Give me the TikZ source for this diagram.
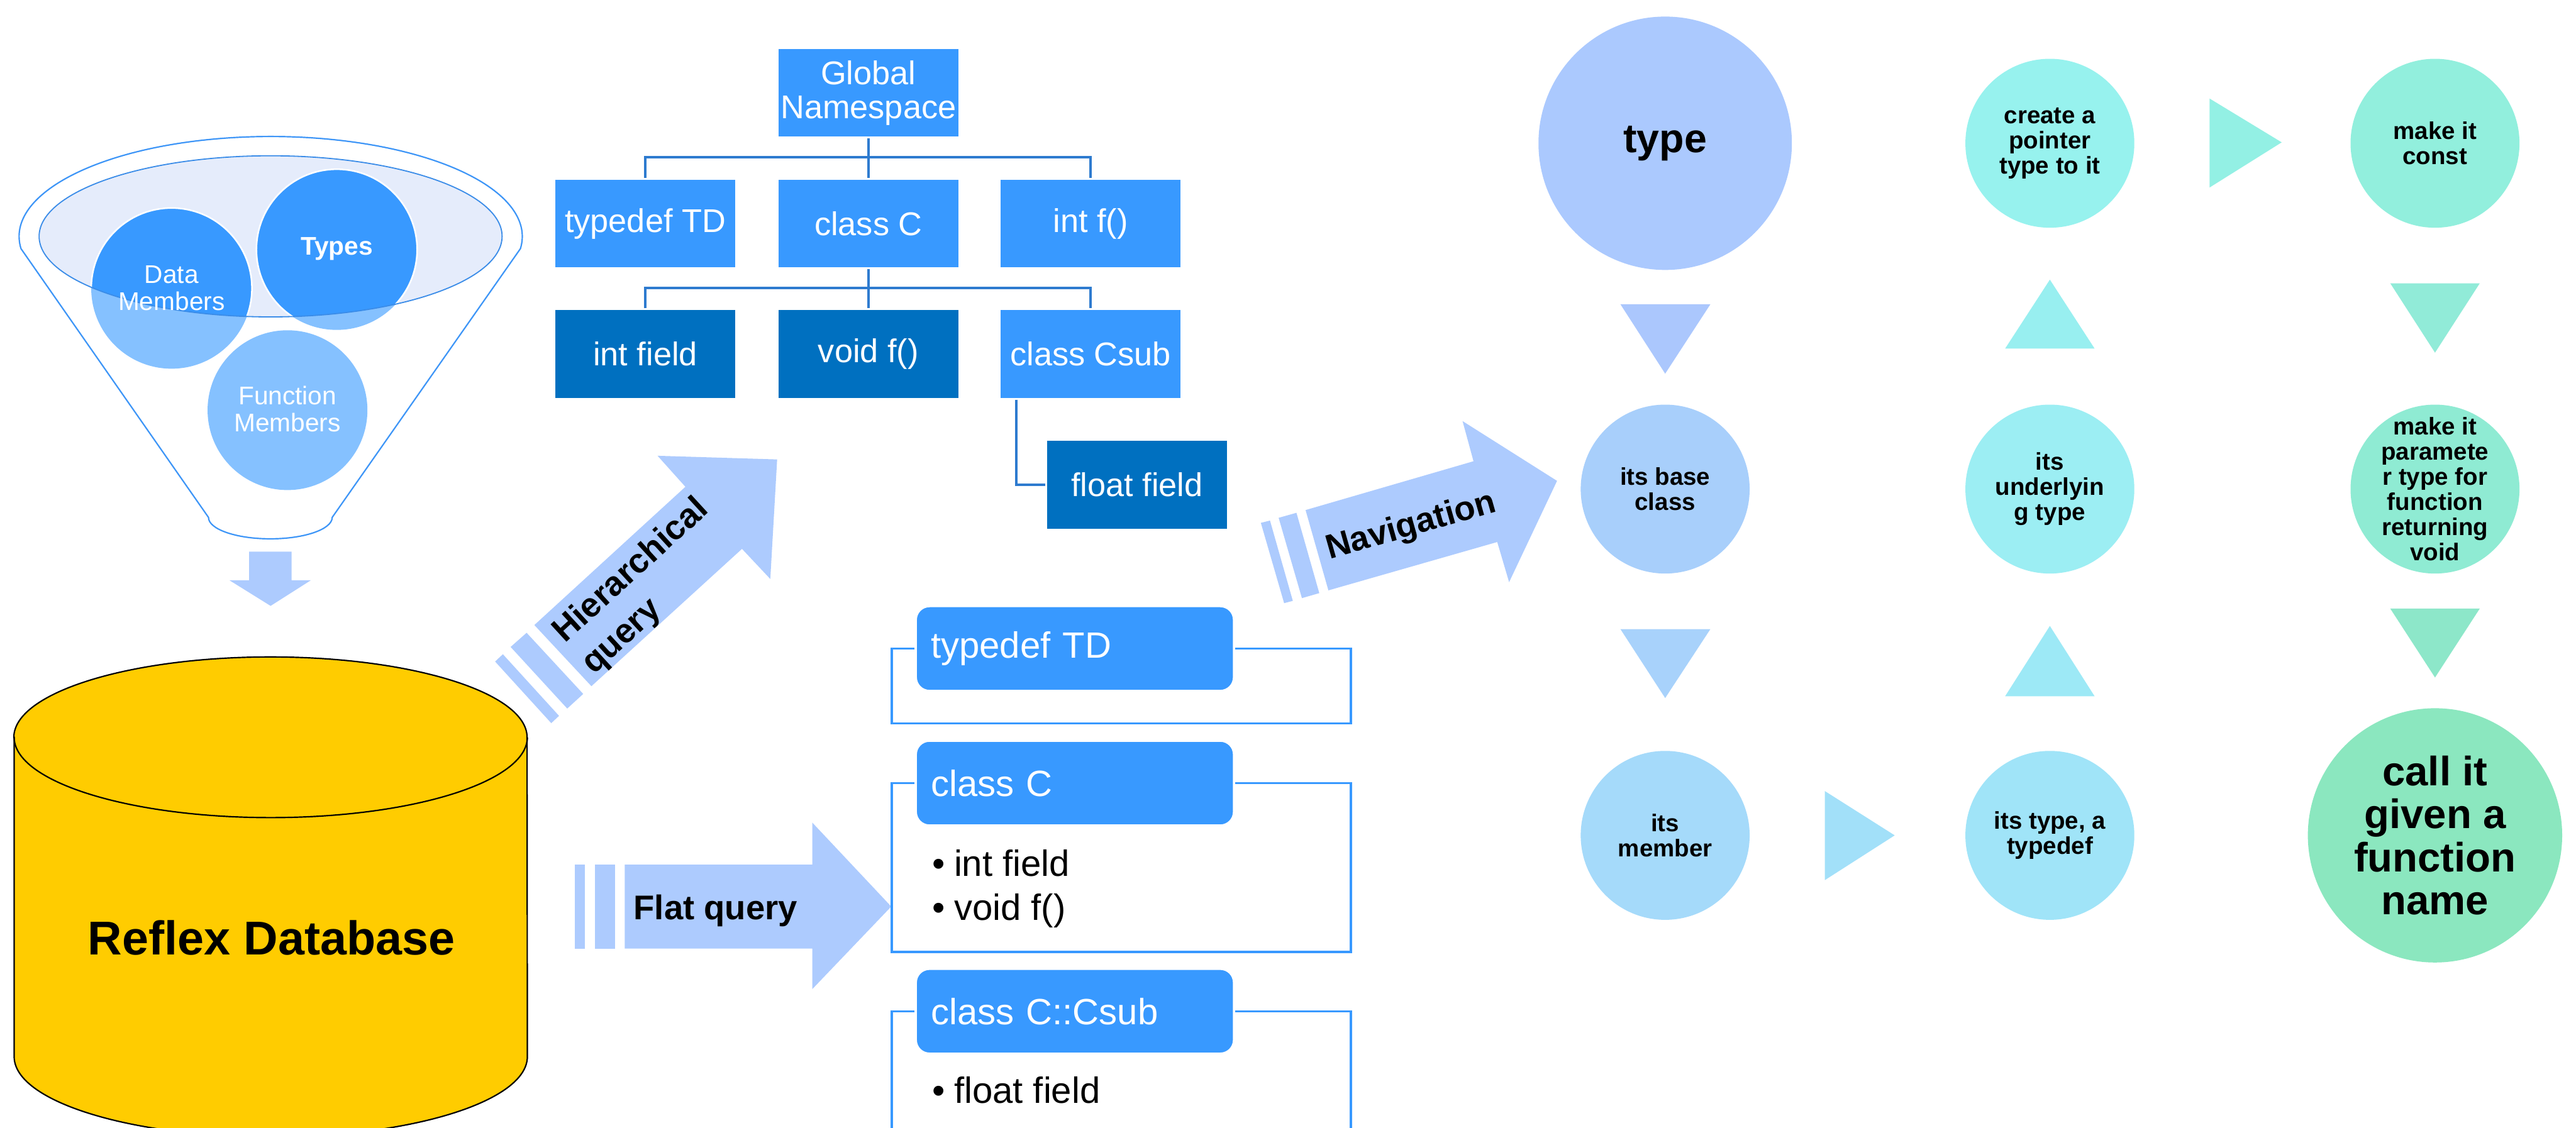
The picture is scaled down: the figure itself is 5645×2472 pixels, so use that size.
\documentclass[tikz,border=0pt]{standalone}
\usepackage{fontspec}
\setmainfont{Liberation Sans}
\newcommand\fsz[2]{\fontsize{#1pt}{#2pt}\selectfont}
\definecolor{arrowcol}{HTML}{ADCBFE}
\definecolor{funline}{HTML}{3D95F7}
\definecolor{ellline}{HTML}{3A8CE8}
\definecolor{ellfill}{HTML}{E5ECFB}
\definecolor{circlight}{HTML}{85C1FF}
\definecolor{circdark}{HTML}{3899FF}
\definecolor{boxlight}{HTML}{3899FF}
\definecolor{boxdark}{HTML}{0070C0}
\definecolor{conncol}{HTML}{2E7BCF}
\definecolor{cylfill}{HTML}{FFCC00}
\definecolor{cType}{HTML}{ABC9FE}
\definecolor{cT1}{HTML}{ABC7FD}
\definecolor{cBase}{HTML}{A8CFFB}
\definecolor{cT2}{HTML}{A8D2FB}
\definecolor{cMem}{HTML}{A5DAFA}
\definecolor{cT3}{HTML}{A2E0F9}
\definecolor{cTd}{HTML}{A0E4F8}
\definecolor{cT4}{HTML}{9DE9F6}
\definecolor{cUnd}{HTML}{9CEEF3}
\definecolor{cT5}{HTML}{98EFF0}
\definecolor{cPtr}{HTML}{97F2EE}
\definecolor{cT6}{HTML}{93F0E4}
\definecolor{cConst}{HTML}{92EFDD}
\definecolor{cT7}{HTML}{91EBD8}
\definecolor{cPar}{HTML}{8FEBD3}
\definecolor{cT8}{HTML}{8DE7C9}
\definecolor{cCall}{HTML}{8BE7BF}
\begin{document}
\begin{tikzpicture}[x=0.01cm, y=-0.01cm,
  treebox/.style={rectangle, fill=boxlight, draw=white, line width=0.04cm,
    minimum width=3.98cm, minimum height=1.96cm, inner sep=0pt, text=white,
    font=\fsz{20.5}{21.3}, align=center},
  treedark/.style={treebox, fill=boxdark},
  conn/.style={draw=conncol, line width=0.06cm},
  ttl/.style={rectangle, rounded corners=0.3cm, fill=boxlight, draw=white,
    line width=0.05cm, minimum height=1.86cm, text width=6.31cm,
    inner xsep=0.33cm, inner ysep=0pt, align=left, text=white,
    font=\fsz{22.76}{27.6}},
  bracket/.style={draw=boxlight, line width=0.045cm},
  item/.style={anchor=base west, inner sep=0pt, font=\fsz{22.76}{27.6}},
  band/.style={fill=arrowcol},
  lbl/.style={font=\bfseries\fsz{21.34}{26.46}, inner sep=0pt, anchor=base west},
  flowc/.style={circle, minimum size=3.7cm, inner sep=0pt},
  flowt/.style={align=center, inner sep=0pt, font=\bfseries\fsz{15.08}{15.65}},
  ftxt/.style={align=center, inner sep=0pt, text=white, font=\fsz{15.93}{16.79}}
]
\useasboundingbox (0,0) rectangle (5645,2472);
\clip (0,0) rectangle (5645,2472);
\fill[white] (0,0) rectangle (5645,2472);

% ---------------- funnel ----------------
\draw[funline, line width=0.03cm] (46,545)
  arc[start angle=187, end angle=-7, x radius=5.51cm, y radius=2.19cm]
  -- (728,1134)
  arc[start angle=0, end angle=-180, x radius=1.355cm, y radius=0.47cm]
  -- cycle;
\fill[ellfill] (593,518) ellipse [x radius=5.07cm, y radius=1.765cm];
\fill[circlight] (376,632) circle [radius=1.76cm];
\fill[circlight] (738,547) circle [radius=1.76cm];
\fill[circlight] (630,899) circle [radius=1.75cm];
\begin{scope}
  \clip (593,518) ellipse [x radius=5.07cm, y radius=1.765cm];
  \fill[circdark] (376,632) circle [radius=1.76cm];
  \fill[circdark] (738,547) circle [radius=1.76cm];
  \draw[white, line width=0.035cm] (376,632) circle [radius=1.76cm];
  \draw[white, line width=0.035cm] (738,547) circle [radius=1.76cm];
\end{scope}
\draw[ellline, line width=0.025cm] (593,518) ellipse [x radius=5.07cm, y radius=1.765cm];
\node[ftxt] (dm) at (376,631) {Data\\Members};
\node[ftxt, font=\bfseries\fsz{15.93}{16.79}] (ty) at (738,545) {Types};
\node[ftxt] (fm) at (630,897) {Function\\Members};

% down arrow
\fill[band] (546,1209) -- (639,1209) -- (639,1272) -- (681,1272) -- (593,1328)
  -- (503,1272) -- (546,1272) -- cycle;

% ---------------- database cylinder ----------------
\filldraw[fill=cylfill, draw=black, line width=0.03cm] (31,1616) -- (31,2316)
  arc[start angle=180, end angle=360, x radius=5.62cm, y radius=1.76cm]
  -- (1155,1616)
  arc[start angle=0, end angle=180, x radius=5.62cm, y radius=1.76cm] -- cycle;
\draw[black, line width=0.03cm] (31,1616)
  arc[start angle=180, end angle=360, x radius=5.62cm, y radius=1.76cm];
\node[font=\bfseries\fsz{29.6}{32}, inner sep=0pt] (db) at (595,2056) {Reflex Database};

% ---------------- hierarchical query arrow ----------------
\fill[band] (1085,1450) -- (1102,1434) -- (1225,1569) -- (1208,1585) -- cycle;
\fill[band] (1119,1418) -- (1154,1387) -- (1278,1521) -- (1243,1553) -- cycle;
\fill[band] (1171,1370) -- (1502,1067) -- (1441,999) -- (1703,1007) -- (1688,1269)
  -- (1626,1203) -- (1296,1504) -- cycle;
\node[font=\bfseries\fsz{21.34}{26.46}, inner sep=0pt, align=left,
  anchor=north west, rotate=42.5] (hq) at (1201,1371) {Hierarchical\\query};

% ---------------- flat query arrow ----------------
\fill[band] (1260,1895) rectangle (1282,2079);
\fill[band] (1304,1895) rectangle (1348,2079);
\fill[band] (1369,1895) -- (1780,1895) -- (1780,1803) -- (1953,1987) -- (1780,2168)
  -- (1780,2079) -- (1369,2079) -- cycle;
\node[lbl] (flat) at (1388,2016) {Flat query};

% ---------------- navigation arrow ----------------
\fill[band] (2763,1146) -- (2783,1141) -- (2833,1317) -- (2814,1322) -- cycle;
\fill[band] (2802,1135) -- (2841,1124) -- (2891,1300) -- (2853,1311) -- cycle;
\fill[band] (2861,1118) -- (3229,1011) -- (3205,923) -- (3412,1054) -- (3307,1276)
  -- (3281,1188) -- (2911,1294) -- cycle;
\node[lbl, rotate=15.9] (nav) at (2913,1226) {Navigation};

% ---------------- tree ----------------
\node[treebox] (gn) at (1903,203.5) {Global\\Namespace};
\node[treebox] (td) at (1414,490) {typedef TD};
\node[treebox] (cc) at (1903,490) {class C};
\node[treebox] (nfn) at (2390,490) {int f()};
\node[treedark] (nif) at (1414,776) {int field};
\node[treedark] (nvf) at (1903,776) {void f()};
\node[treebox] (ncs) at (2390,776) {class Csub};
\node[treedark] (nff) at (2491.5,1062.5) {float field};
\draw[conn] (gn.south) -- (cc.north);
\draw[conn] (td.north) -- ++(0,-45) -| (nfn.north);
\draw[conn] (cc.south) -- (nvf.north);
\draw[conn] (nif.north) -- ++(0,-45) -| (ncs.north);
\draw[conn] ([xshift=0.38cm]ncs.south west) |- (nff.west);

% ---------------- flat list ----------------
\node[ttl] (t1) at (2355.5,1421.5) {typedef TD};
\node[ttl] (t2) at (2355.5,1716.5) {class C};
\node[ttl] (t3) at (2355.5,2216.5) {class C::Csub};
\draw[bracket] (t1.west) -- ++(-50,0) |- ++(1006,164) -- ++(0,-164) -- (t1.east);
\draw[bracket] (t2.west) -- ++(-50,0) |- ++(1006,370) -- ++(0,-370) -- (t2.east);
\draw[bracket] (t3.west) -- ++(-50,0) |- ++(1006,400) -- ++(0,-400) -- (t3.east);
\node[item] (i1) at (2042,1920) {•\hspace{0.2cm}int field};
\node[item] (i2) at (2042,2017) {•\hspace{0.2cm}void f()};
\node[item] (i3) at (2042,2418) {•\hspace{0.2cm}float field};

% ---------------- navigation flow ----------------
\fill[cT1] (3551,667) -- (3748,667) -- (3649,819) -- cycle;
\fill[cT2] (3551,1379) -- (3748,1379) -- (3649,1530) -- cycle;
\fill[cT3] (3999,1734) -- (3999,1929) -- (4152,1831) -- cycle;
\fill[cT4] (4394,1526) -- (4590,1526) -- (4492,1372) -- cycle;
\fill[cT5] (4394,764) -- (4590,764) -- (4492,613) -- cycle;
\fill[cT6] (4842,216) -- (4842,411) -- (5000,312) -- cycle;
\fill[cT7] (5238,621) -- (5434,621) -- (5336,773) -- cycle;
\fill[cT8] (5238,1334) -- (5434,1334) -- (5336,1485) -- cycle;

\node[flowc, minimum size=5.55cm, fill=cType] (ntype) at (3649,314) {};
\node[flowc, fill=cBase] (nbase) at (3649,1072) {};
\node[flowc, fill=cMem] (nmem) at (3649,1831) {};
\node[flowc, fill=cTd] (ntd) at (4492,1831) {};
\node[flowc, fill=cUnd] (nund) at (4492,1072) {};
\node[flowc, fill=cPtr] (nptr) at (4492,314) {};
\node[flowc, fill=cConst] (ncst) at (5336,314) {};
\node[flowc, fill=cPar] (npar) at (5336,1072) {};
\node[flowc, minimum size=5.57cm, fill=cCall] (ncall) at (5336,1831) {};

\node[flowt, font=\bfseries\fsz{25.3}{26.8}] (ltype) at (ntype) {type};
\node[flowt] (lbase) at (nbase) {its base\\class};
\node[flowt] (lmem) at (nmem) {its\\member};
\node[flowt] (ltd) at (ntd) {its type, a\\typedef};
\node[flowt] (lund) at (nund) {its\\underlyin\\g type};
\node[flowt] (lptr) at (nptr) {create a\\pointer\\type to it};
\node[flowt] (lcst) at (ncst) {make it\\const};
\node[flowt] (lpar) at (npar) {make it\\paramete\\r type for\\function\\returning\\void};
\node[flowt, font=\bfseries\fsz{25.6}{26.75}] (lcall) at (ncall) {call it\\given a\\function\\name};
\end{tikzpicture}
\end{document}
